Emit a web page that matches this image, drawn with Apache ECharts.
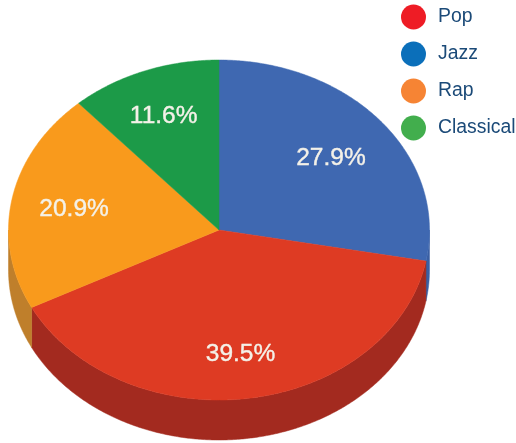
<!DOCTYPE html>
<html>
<head>
<meta charset="utf-8">
<style>html,body{margin:0;padding:0;background:#fff}#c{width:516px;height:443px}</style>
<script src="https://cdn.jsdelivr.net/npm/echarts@6/dist/echarts.min.js"></script>
</head>
<body>
<div id="c"></div>
<script>
const categories = ['Pop', 'Jazz', 'Rap', 'Classical'];
const shares = [39.5, 27.9, 20.9, 11.6];
const legendColors = ['#ee1c25', '#0b6fba', '#f68434', '#42ae4d'];
const topColors = ['#de3b23', '#3f68b1', '#f99a1c', '#1c9a48'];
const sideColors = ['#a32a1f', '#3a5fa3', '#bf7f2b', '#136b33'];
const clockwiseOrder = ['Jazz', 'Pop', 'Rap', 'Classical'];
const labelNudgeX = [0, -3, 2, -2];
const labelNudgeY = [5, 5, 1, -0.5];

const CX = 219, CY = 230, RX = 210.5, RY = 170, DEPTH = 40, LABEL_R = 0.71;
const total = shares.reduce((a, b) => a + b, 0);
const STEP = Math.PI / 180 / 2;

function pt(a, dy) {
  return [CX + RX * Math.sin(a), CY - RY * Math.cos(a) + dy];
}
function arc(a0, a1, dy) {
  const pts = [];
  const n = Math.max(2, Math.ceil((a1 - a0) / STEP));
  for (let i = 0; i <= n; i++) pts.push(pt(a0 + (a1 - a0) * i / n, dy));
  return pts;
}
function startOf(name) {
  let s = 0;
  for (const c of clockwiseOrder) {
    if (c === name) break;
    s += shares[categories.indexOf(c)];
  }
  return s;
}
function makeSeries(name) {
  const i = categories.indexOf(name);
  return {
    type: 'custom',
    name: name,
    coordinateSystem: 'none',
    animation: false,
    silent: true,
    itemStyle: { color: legendColors[i] },
    data: [{ name: name, value: shares[i] }],
    renderItem: function (params, api) {
      const v = api.value(0);
      const a0 = startOf(name) / total * 2 * Math.PI;
      const a1 = a0 + v / total * 2 * Math.PI;
      const children = [];
      const s0 = Math.max(a0, Math.PI / 2), s1 = Math.min(a1, 3 * Math.PI / 2);
      if (s1 > s0) {
        children.push({
          type: 'polygon',
          shape: { points: arc(s0, s1, 0).concat(arc(s0, s1, DEPTH).reverse()) },
          style: { fill: sideColors[i], stroke: sideColors[i], lineWidth: 0.5 }
        });
      }
      children.push({
        type: 'polygon',
        shape: { points: [[CX, CY]].concat(arc(a0, a1, 0)) },
        style: { fill: topColors[i], stroke: topColors[i], lineWidth: 0.5 }
      });
      const mid = (a0 + a1) / 2;
      children.push({
        type: 'text',
        z2: 10,
        style: {
          x: CX + RX * LABEL_R * Math.sin(mid) + labelNudgeX[i],
          y: CY - RY * LABEL_R * Math.cos(mid) + labelNudgeY[i],
          text: v.toFixed(1) + '%',
          fill: '#f4f1e8',
          stroke: '#f4f1e8',
          lineWidth: 0.4,
          font: '24.5px "Liberation Sans", Arial, sans-serif',
          align: 'center',
          verticalAlign: 'middle'
        }
      });
      return { type: 'group', children: children };
    }
  };
}
const chart = echarts.init(document.getElementById('c'), null, { renderer: 'canvas' });
chart.setOption({
  backgroundColor: '#fff',
  animation: false,
  legend: {
    orient: 'vertical',
    left: 401,
    top: 4.5,
    padding: 0,
    itemWidth: 25,
    itemHeight: 25,
    itemGap: 12,
    selectedMode: false,
    textStyle: {
      color: '#1b4a78',
      fontSize: 19.4,
      fontFamily: '"Liberation Sans", Arial, sans-serif',
      padding: [0, 0, 0, 7]
    },
    data: categories.map((c, i) => ({ name: c, icon: 'circle', itemStyle: { color: legendColors[i] } }))
  },
  series: clockwiseOrder.map(makeSeries)
});
</script>
</body>
</html>
